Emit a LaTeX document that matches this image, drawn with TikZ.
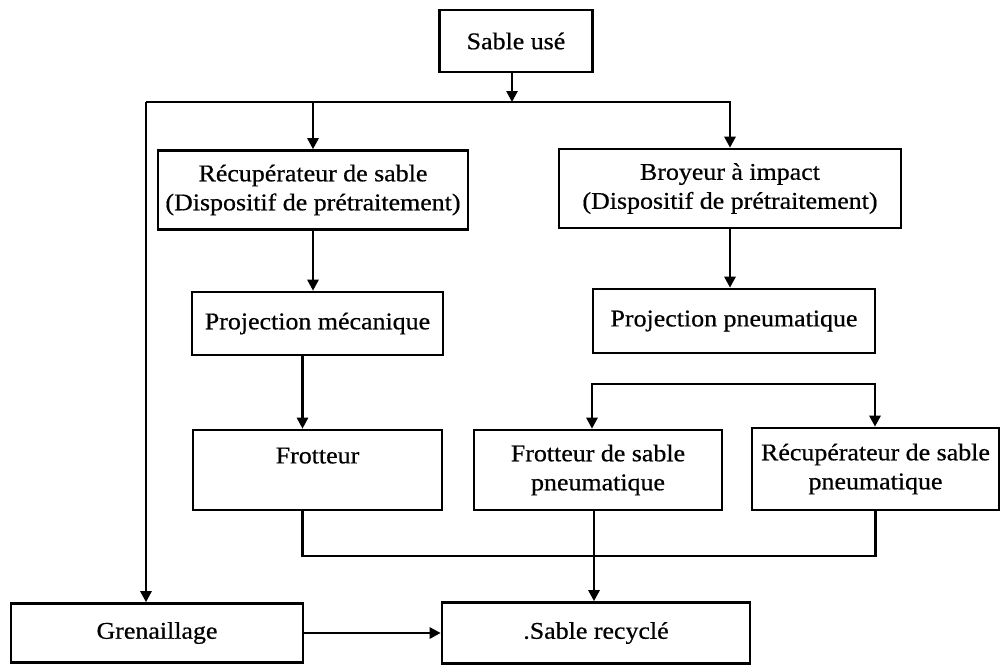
\documentclass[tikz,border=0pt]{standalone}
\usepackage{fontspec}
\setmainfont[FakeStretch=1.08,FakeBold=0.6]{Liberation Serif}
\usetikzlibrary{arrows.meta}
\begin{document}
\begin{tikzpicture}[x=1pt,y=-1pt,
  box/.style={draw,line width=2.6pt,inner sep=0pt,align=center,
    font=\fontsize{24}{29}\selectfont},
  link/.style={line width=2.6pt},
  arr/.style={link,-{Triangle[length=11pt,width=11pt]}}]
\useasboundingbox (0,0) rectangle (1001,665);
% boxes
\node[box,minimum width=153pt,minimum height=62pt] (sable) at (516,41) {Sable usé};
\node[box,minimum width=310pt,minimum height=79pt] (recup) at (313,190) {Récupérateur de sable\\(Dispositif de prétraitement)};
\node[box,minimum width=342pt,minimum height=79pt] (broy) at (730,188.5) {Broyeur à impact\\(Dispositif de prétraitement)};
\node[box,minimum width=251pt,minimum height=63pt] (projmec) at (317.5,323.5) {Projection mécanique};
\node[box,minimum width=282pt,minimum height=64pt] (projpn) at (734,321) {Projection pneumatique};
\node[box,minimum width=249pt,minimum height=80pt] (frot) at (317.5,470) {Frotteur\\\mbox{}};
\node[box,minimum width=248pt,minimum height=80pt] (frotp) at (598,470) {Frotteur de sable\\pneumatique};
\node[box,minimum width=247pt,minimum height=82pt] (recpn) at (875.5,469) {Récupérateur de sable\\pneumatique};
\node[box,minimum width=292pt,minimum height=59pt] (gren) at (157,633) {Grenaillage};
\node[box,minimum width=308pt,minimum height=61pt] (recyc) at (596,633) {.Sable recyclé};
% junction points
\coordinate (J) at (512,102);
\coordinate (L) at (146,102);
\coordinate (B1) at (592,384);
\coordinate (B2) at (875,384);
\coordinate (M) at (594,556);
% top distribution
\draw[arr] (sable.south -| J) -- (J);
\draw[link] (L) -- (J);
\draw[arr] (J) -| (recup.north);
\draw[arr] (J) -| (broy.north);
\draw[arr] (L) -- (L |- gren.north);
% left chain
\draw[arr] (recup.south) -- (recup.south |- projmec.north);
\draw[arr] ([xshift=-15pt]projmec.south) -- ([xshift=-15pt]projmec.south |- frot.north);
% right chain
\draw[arr] (broy.south) -- (broy.south |- projpn.north);
\draw[arr] (B2) -- (B1) -- (B1 |- frotp.north);
\draw[arr] (B1) -- (B2) -- (B2 |- recpn.north);
% collection
\draw[link] ([xshift=-15pt]frot.south) |- (M) -| (recpn.south);
\draw[arr] (frotp.south -| M) -- (M |- recyc.north);
\draw[arr] (gren.east) -- (recyc.west);
\end{tikzpicture}
\end{document}
